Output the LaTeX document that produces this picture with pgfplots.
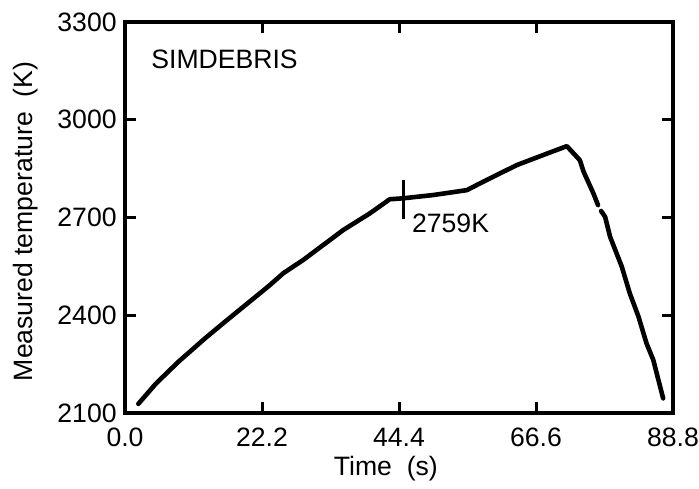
\documentclass[border=0pt]{standalone}
\usepackage{fontspec}
\setmainfont{Liberation Sans}
\usepackage{pgfplots}
\pgfplotsset{compat=1.18}
\begin{document}
\begin{tikzpicture}
\useasboundingbox (-62.5pt,-37.5pt) rectangle (287pt,206.5pt);
\begin{axis}[
  scale only axis, width=274pt, height=195.5pt,
  at={(0,0)}, anchor=south west,
  xmin=0, xmax=88.8, ymin=2100, ymax=3300,
  xtick={0,22.2,44.4,66.6,88.8}, xticklabels={0.0,22.2,44.4,66.6,88.8},
  ytick={2100,2400,2700,3000,3300}, yticklabels={2100,2400,2700,3000,3300},
  tick align=inside, major tick length=5.5pt,
  every tick/.style={black, line width=1.5pt},
  axis line style={line width=2pt},
  font=\fontsize{13.3}{16}\selectfont,
  xticklabel style={anchor=base, yshift=-16.5pt},
  yticklabel style={anchor=east, inner sep=0pt, xshift=-4pt},
  xlabel={Time\ \ (s)},
  ylabel={Measured temperature\ \ (K)},
  xlabel style={at={(axis description cs:0.476,-0.16)}, anchor=base},
  ylabel style={at={(axis description cs:-0.168,0.49)}, anchor=base, rotate=0},
  clip=false,
]
\addplot[black, line width=2.3pt, line join=round, line cap=round] coordinates {
(2.16,2128) (5.0,2190) (8.64,2257) (12.96,2329) (16.2,2380) (22.15,2472) (23.5,2493)
(25.65,2529) (28.9,2570) (35.4,2662) (39.7,2713) (42.9,2756) (45.1,2759)
(49.96,2769) (55.4,2784) (58.06,2810) (63.5,2861) (67.8,2892) (71.6,2919)
(73.7,2876) (74.3,2841) (75.9,2774) (76.65,2738)
};
\addplot[black, line width=2.3pt, line join=round, line cap=round] coordinates {
(77.15,2720) (77.8,2702) (78.6,2641) (80.5,2549) (81.8,2467) (83.2,2396)
(84.5,2314) (85.6,2263) (87.2,2145)
};
\addplot[black, line width=1.5pt] coordinates {(45.1,2694) (45.1,2815)};
\node[anchor=west, inner sep=0pt] at (axis cs:4.21,3184) {SIMDEBRIS};
\node[anchor=west, inner sep=0pt] at (axis cs:46.46,2681) {2759K};
\end{axis}
\end{tikzpicture}
\end{document}
